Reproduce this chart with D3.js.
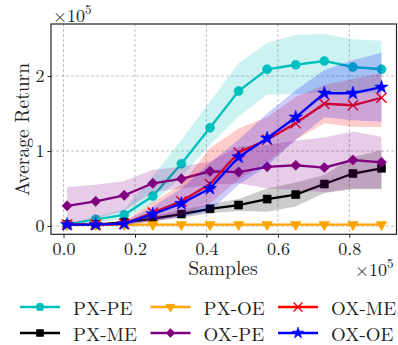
<!DOCTYPE html>
<html>
<head>
<meta charset="utf-8">
<script src="https://cdn.jsdelivr.net/npm/d3@7"></script>
<style>
  body { margin: 0; background: #fff; }
</style>
</head>
<body>
<div id="chart"></div>
<script>
// samples (x 1e5)
var samples = [0.01, 0.09, 0.17, 0.25, 0.33, 0.41, 0.49, 0.57, 0.65, 0.73, 0.81, 0.89];

// average return (x 1e5): mean, lower, upper
var pxpeMean = [0.02, 0.09, 0.15, 0.40, 0.83, 1.31, 1.80, 2.09, 2.15, 2.20, 2.12, 2.09];
var pxpeLo   = [0.01, 0.05, 0.09, 0.30, 0.66, 1.08, 1.46, 1.75, 1.76, 1.78, 1.78, 1.77];
var pxpeHi   = [0.03, 0.13, 0.22, 0.66, 1.15, 1.66, 2.17, 2.44, 2.55, 2.56, 2.49, 2.47];

var pxmeMean = [0.02, 0.02, 0.05, 0.10, 0.16, 0.23, 0.28, 0.36, 0.42, 0.56, 0.70, 0.77];
var pxmeLo   = [0.01, 0.01, 0.03, 0.06, 0.11, 0.17, 0.20, 0.19, 0.26, 0.44, 0.49, 0.49];
var pxmeHi   = [0.03, 0.03, 0.07, 0.14, 0.21, 0.29, 0.36, 0.50, 0.58, 0.68, 0.92, 1.01];

var pxoeMean = [0.02, 0.02, 0.02, 0.02, 0.02, 0.02, 0.02, 0.02, 0.02, 0.02, 0.02, 0.02];
var pxoeLo   = [0.01, 0.01, 0.01, 0.01, 0.01, 0.01, 0.01, 0.01, 0.01, 0.01, 0.01, 0.01];
var pxoeHi   = [0.03, 0.03, 0.03, 0.03, 0.03, 0.03, 0.03, 0.03, 0.03, 0.03, 0.03, 0.03];

var oxpeMean = [0.27, 0.33, 0.41, 0.57, 0.63, 0.73, 0.72, 0.79, 0.81, 0.78, 0.88, 0.85];
var oxpeLo   = [0.02, 0.10, 0.20, 0.45, 0.50, 0.55, 0.57, 0.50, 0.48, 0.45, 0.50, 0.50];
var oxpeHi   = [0.52, 0.55, 0.60, 0.75, 0.79, 0.86, 1.06, 1.08, 1.14, 1.18, 1.26, 1.19];

var oxmeMean = [0.02, 0.02, 0.03, 0.18, 0.33, 0.56, 0.98, 1.15, 1.37, 1.63, 1.61, 1.71];
var oxmeLo   = [0.01, 0.01, 0.01, 0.06, 0.14, 0.30, 0.62, 0.85, 1.15, 1.37, 1.32, 1.32];
var oxmeHi   = [0.03, 0.03, 0.06, 0.32, 0.55, 1.04, 1.30, 1.45, 1.72, 1.88, 1.96, 2.04];

var oxoeMean = [0.02, 0.02, 0.03, 0.16, 0.30, 0.50, 0.92, 1.17, 1.45, 1.77, 1.77, 1.85];
var oxoeLo   = [0.01, 0.01, 0.01, 0.07, 0.12, 0.20, 0.55, 0.80, 1.15, 1.45, 1.41, 1.39];
var oxoeHi   = [0.03, 0.03, 0.06, 0.26, 0.50, 0.84, 1.15, 1.50, 1.81, 2.08, 2.21, 2.31];

var xTicks = [0.0, 0.2, 0.4, 0.6, 0.8];
var yTicks = [0, 1, 2];

var series = [
  { name: "PX-PE", color: "#00bfbf", mean: pxpeMean, lo: pxpeLo, hi: pxpeHi, marker: "circle" },
  { name: "PX-ME", color: "#000000", mean: pxmeMean, lo: pxmeLo, hi: pxmeHi, marker: "square" },
  { name: "PX-OE", color: "#ffa500", mean: pxoeMean, lo: pxoeLo, hi: pxoeHi, marker: "tri" },
  { name: "OX-PE", color: "#800080", mean: oxpeMean, lo: oxpeLo, hi: oxpeHi, marker: "diamond" },
  { name: "OX-ME", color: "#ff0000", mean: oxmeMean, lo: oxmeLo, hi: oxmeHi, marker: "x" },
  { name: "OX-OE", color: "#0000ff", mean: oxoeMean, lo: oxoeLo, hi: oxoeHi, marker: "star" }
];

var FONT = "'Latin Modern Roman', 'Liberation Serif', serif";
var width = 398, height = 345;
var plot = { left: 51, right: 396.5, top: 24, bottom: 234.3 };

var svg = d3.select("#chart").append("svg")
  .attr("width", width)
  .attr("height", height)
  .style("font-family", FONT);

var xScale = d3.scaleLinear().domain([-0.035, 0.932]).range([plot.left, plot.right]);
var yScale = d3.scaleLinear().domain([-0.11, 2.693]).range([plot.bottom, plot.top]);

// grid
svg.append("g").selectAll("line.gx").data(xTicks).enter().append("line")
  .attr("x1", d => xScale(d)).attr("x2", d => xScale(d))
  .attr("y1", plot.top).attr("y2", plot.bottom)
  .attr("stroke", "#b0b0b0").attr("stroke-width", 0.8).attr("stroke-dasharray", "3,2");
svg.append("g").selectAll("line.gy").data(yTicks).enter().append("line")
  .attr("x1", plot.left).attr("x2", plot.right)
  .attr("y1", d => yScale(d)).attr("y2", d => yScale(d))
  .attr("stroke", "#b0b0b0").attr("stroke-width", 0.8).attr("stroke-dasharray", "3,2");

function markerPath(type, s) {
  if (type == "circle") return d3.symbol(d3.symbolCircle, 64 * s)();
  if (type == "square") return d3.symbol(d3.symbolSquare, 64 * s)();
  if (type == "tri") return d3.symbol(d3.symbolTriangle, 48 * s)();
  if (type == "diamond") return d3.symbol(d3.symbolSquare, 52 * s)();
  if (type == "x") return d3.symbol(d3.symbolX, 70 * s)();
  if (type == "star") return d3.symbol(d3.symbolStar, 55 * s)();
}
function markerRot(type) {
  if (type == "tri") return " rotate(180)";
  if (type == "diamond") return " rotate(45)";
  return "";
}
function drawMarker(g, type, color, x, y, s) {
  var p = g.append("path")
    .attr("d", markerPath(type, s))
    .attr("transform", "translate(" + x + "," + y + ")" + markerRot(type));
  if (type == "x") {
    p.attr("fill", "none").attr("stroke", color).attr("stroke-width", 1.4);
  } else {
    p.attr("fill", color).attr("stroke", color).attr("stroke-width", 0.6);
  }
}

var area = d3.area()
  .x(d => xScale(d.x))
  .y0(d => yScale(d.lo))
  .y1(d => yScale(d.hi));
var line = d3.line()
  .x(d => xScale(d.x))
  .y(d => yScale(d.y));

var plotG = svg.append("g");
series.forEach(function(s) {
  var pts = samples.map(function(x, i) {
    return { x: x, y: s.mean[i], lo: s.lo[i], hi: s.hi[i] };
  });
  plotG.append("path")
    .attr("d", area(pts))
    .attr("fill", s.color)
    .attr("fill-opacity", 0.2)
    .attr("stroke", "none");
  plotG.append("path")
    .attr("d", line(pts))
    .attr("fill", "none")
    .attr("stroke", s.color)
    .attr("stroke-width", 2.3);
  pts.forEach(function(d) {
    drawMarker(plotG, s.marker, s.color, xScale(d.x), yScale(d.y), 1);
  });
});

// frame
svg.append("rect")
  .attr("x", plot.left).attr("y", plot.top)
  .attr("width", plot.right - plot.left).attr("height", plot.bottom - plot.top)
  .attr("fill", "none").attr("stroke", "#222").attr("stroke-width", 1.2);

// axes
var xAxis = d3.axisBottom(xScale).tickValues(xTicks).tickFormat(d3.format(".1f")).tickSizeOuter(0).tickSize(3.5).tickPadding(4);
var yAxis = d3.axisLeft(yScale).tickValues(yTicks).tickFormat(d3.format("d")).tickSizeOuter(0).tickSize(3.5).tickPadding(3);
var gx = svg.append("g").attr("transform", "translate(0," + plot.bottom + ")").call(xAxis);
var gy = svg.append("g").attr("transform", "translate(" + plot.left + ",0)").call(yAxis);
[gx, gy].forEach(function(g) {
  g.attr("font-family", null).attr("font-size", null);
  g.select(".domain").remove();
  g.selectAll("line").attr("stroke", "#222").attr("stroke-width", 1);
  g.selectAll("text").attr("fill", "#222")
    .style("font-family", FONT).style("font-size", "18px");
});

// axis labels
svg.append("text")
  .attr("x", 223).attr("y", 275)
  .attr("text-anchor", "middle")
  .style("font-family", FONT).style("font-size", "19.5px")
  .attr("fill", "#222")
  .text("Samples");
svg.append("text")
  .attr("transform", "translate(29,129.5) rotate(-90)")
  .attr("text-anchor", "middle")
  .style("font-family", FONT).style("font-size", "19.5px")
  .attr("fill", "#222")
  .text("Average Return");

// offset labels
function offsetLabel(x, y) {
  var t = svg.append("text").attr("x", x).attr("y", y).attr("fill", "#222")
    .style("font-family", FONT).style("font-size", "18px");
  t.append("tspan").text("\u00d710");
  t.append("tspan").attr("dy", -8).style("font-size", "13px").text("5");
}
offsetLabel(53, 22);
offsetLabel(355, 276);

// legend
var legendItems = [
  { s: series[0], x: 20, y: 307 },
  { s: series[1], x: 20, y: 333 },
  { s: series[2], x: 150.5, y: 307 },
  { s: series[3], x: 150.5, y: 333 },
  { s: series[4], x: 278, y: 307 },
  { s: series[5], x: 278, y: 333 }
];
var lg = svg.append("g");
legendItems.forEach(function(it) {
  lg.append("line")
    .attr("x1", it.x).attr("x2", it.x + 40)
    .attr("y1", it.y).attr("y2", it.y)
    .attr("stroke", it.s.color).attr("stroke-width", 2.3);
  drawMarker(lg, it.s.marker, it.s.color, it.x + 20, it.y, 0.75);
  lg.append("text")
    .attr("x", it.x + 53).attr("y", it.y + 7.5)
    .attr("fill", "#222")
    .style("font-family", FONT).style("font-size", "19px")
    .text(it.s.name);
});
</script>
</body>
</html>
